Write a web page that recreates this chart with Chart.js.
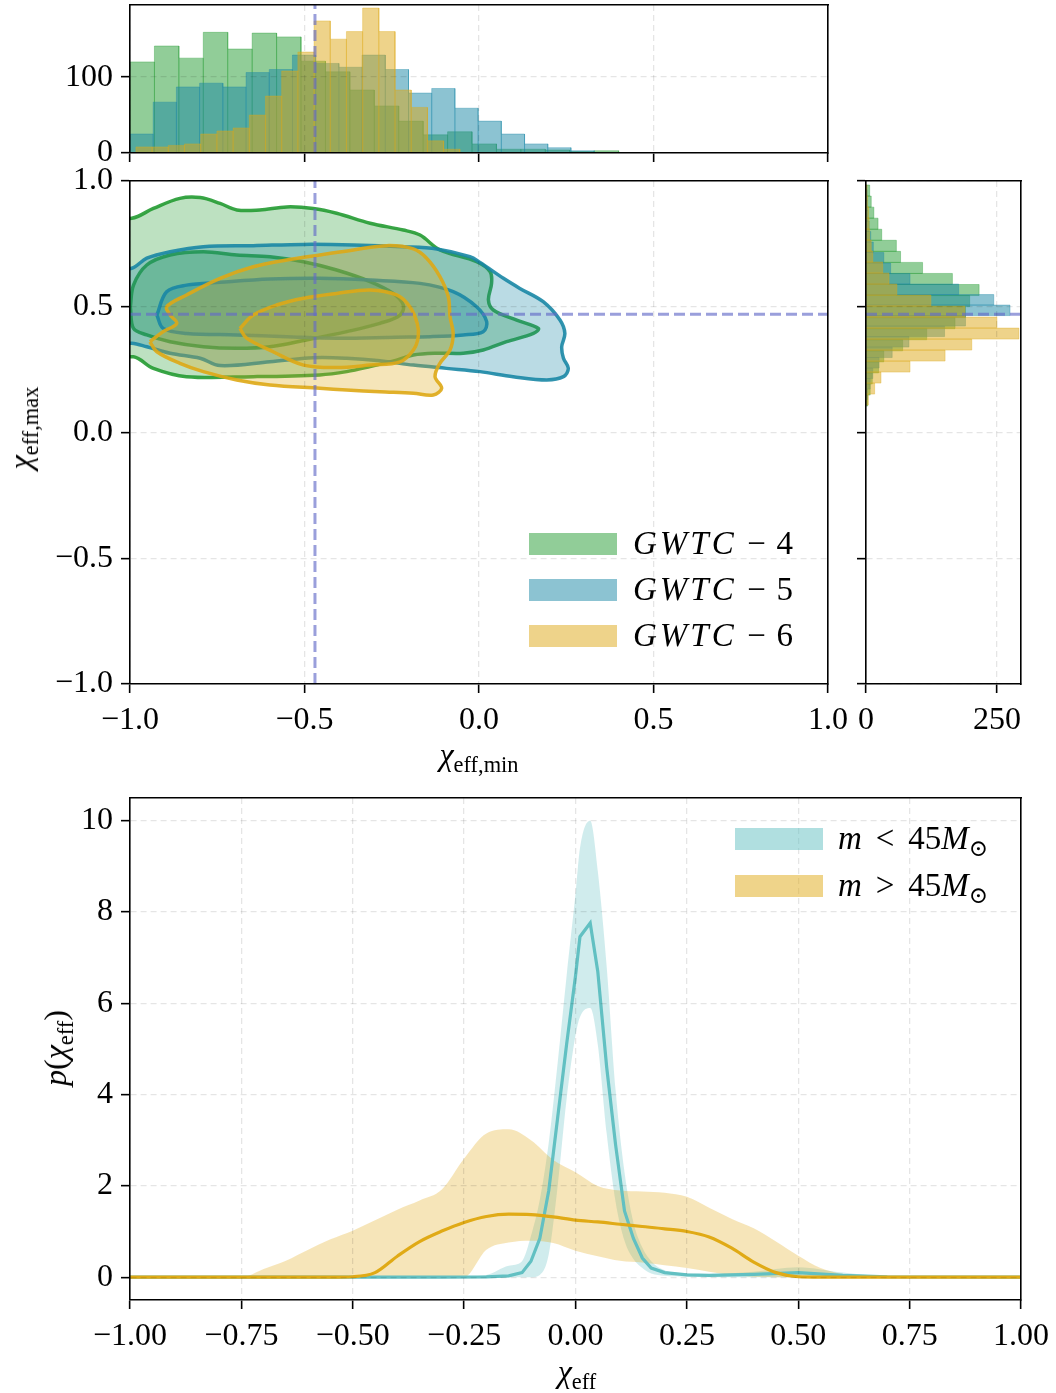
<!DOCTYPE html>
<html>
<head>
<meta charset="utf-8">
<script src="https://cdn.jsdelivr.net/npm/chart.js@4.4.1/dist/chart.umd.min.js"></script>
<style>
  body { margin: 0; background: #fff; }
  #page { position: relative; width: 1056px; height: 1393px; overflow: hidden; background: #fff; }
  canvas { position: absolute; left: 0; top: 0; }
  .t { position: absolute; font-family: 'Liberation Serif', 'DejaVu Serif', serif; font-size: 32px; color: #000; white-space: nowrap; line-height: 1; }
  .t sub { font-size: 0.7em; vertical-align: baseline; position: relative; top: 0.3em; }
  .sw { position: absolute; width: 88px; height: 22px; }
  .lg { font-size: 33px; }
  .lg i.w { letter-spacing: 3px; }
  .mi { margin: 0 0.32em; font-style: normal; }
  .mi2 { margin: 0 0.42em; font-style: normal; }
</style>
</head>
<body>
<div id="page">
  <canvas id="cTop" width="1056" height="1393"></canvas>
  <canvas id="cMain" width="1056" height="1393"></canvas>
  <canvas id="cRight" width="1056" height="1393"></canvas>
  <canvas id="cBottom" width="1056" height="1393"></canvas>

  <div class="t" style="left:20px;top:428px;transform:translate(-50%,-50%) rotate(-90deg)"><i>χ</i><sub>eff,max</sub></div>
  <div class="t" style="left:479px;top:754px;transform:translate(-50%,-50%)"><i>χ</i><sub>eff,min</sub></div>
  <div class="t" style="left:55px;top:1048px;transform:translate(-50%,-50%) rotate(-90deg)"><i>p</i>(<i>χ</i><sub>eff</sub>)</div>
  <div class="t" style="left:577px;top:1371px;transform:translate(-50%,-50%)"><i>χ</i><sub>eff</sub></div>

  <div class="sw" style="left:529px;top:533px;background:rgba(35,155,50,0.5)"></div>
  <div class="sw" style="left:529px;top:579px;background:rgba(25,135,165,0.5)"></div>
  <div class="sw" style="left:529px;top:625px;background:rgba(222,168,22,0.5)"></div>
  <div class="t lg" style="left:633px;top:543px;transform:translateY(-50%)"><i class="w">GWTC</i><span class="mi">−</span>4</div>
  <div class="t lg" style="left:633px;top:589px;transform:translateY(-50%)"><i class="w">GWTC</i><span class="mi">−</span>5</div>
  <div class="t lg" style="left:633px;top:635px;transform:translateY(-50%)"><i class="w">GWTC</i><span class="mi">−</span>6</div>

  <div class="sw" style="left:735px;top:828px;background:rgba(98,192,194,0.5)"></div>
  <div class="sw" style="left:735px;top:875px;background:rgba(224,170,22,0.5)"></div>
  <div class="t lg" style="left:838px;top:838px;transform:translateY(-50%)"><i>m</i><span class="mi2">&lt;</span>45<i>M</i><sub>⊙</sub></div>
  <div class="t lg" style="left:838px;top:885px;transform:translateY(-50%)"><i>m</i><span class="mi2">&gt;</span>45<i>M</i><sub>⊙</sub></div>
</div>

<script>
// reference point (dashed cross-hair)
const markerX = -0.47;
const markerY = 0.47;

// tick values
const spinTicks = [-1, -0.5, 0, 0.5, 1];
const topCountTicks = [0, 100];
const rightCountTicks = [0, 250];
const effTicks = [-1, -0.75, -0.5, -0.25, 0, 0.25, 0.5, 0.75, 1];
const densTicks = [0, 2, 4, 6, 8, 10];

// top marginal: chi_eff,min histograms (bin range + counts, 20 bins)
const gwtc4MinRange = [-1.0, 0.4];
const gwtc4MinCounts = [120, 141, 125, 159, 137, 158, 153, 121, 107, 83, 62, 42, 24, 28, 12, 5, 5, 4, 2, 3];
const gwtc5MinRange = [-1.0, 0.33];
const gwtc5MinCounts = [25, 67, 87, 92, 87, 106, 110, 129, 118, 113, 129, 110, 79, 85, 59, 42, 25, 12, 7, 3];
const gwtc6MinRange = [-0.983, -0.055];
const gwtc6MinCounts = [8, 8, 10, 12, 25, 29, 33, 50, 75, 108, 133, 174, 150, 160, 191, 160, 83, 60, 16, 5];

// right marginal: chi_eff,max histograms (low -> high)
const gwtc4MaxRange = [0.105, 0.984];
const gwtc4MaxCounts = [3, 8, 12, 24, 34, 70, 116, 170, 190, 198, 216, 165, 108, 66, 58, 30, 23, 15, 10, 7];
const gwtc5MaxRange = [0.131, 0.966];
const gwtc5MaxCounts = [3, 8, 13, 25, 50, 82, 150, 190, 275, 244, 177, 84, 47, 34, 14, 9, 6, 4, 3, 2];
const gwtc6MaxRange = [0.109, 0.984];
const gwtc6MaxCounts = [4.5, 16.5, 28.6, 84, 151, 202, 292, 250, 189, 124, 59, 44, 32, 13, 10, 7, 6, 5, 3, 2];

// 2D credible contours [chi_eff,min, chi_eff,max]
const gwtc4Outer = [[-1.1, 0.86], [-0.995, 0.852], [-0.933, 0.891], [-0.857, 0.931], [-0.799, 0.934], [-0.742, 0.911],
  [-0.694, 0.885], [-0.628, 0.885], [-0.551, 0.897], [-0.475, 0.891], [-0.408, 0.872], [-0.312, 0.832], [-0.217, 0.805],
  [-0.169, 0.785], [-0.112, 0.726], [-0.007, 0.679], [0.032, 0.639], [0.036, 0.593], [0.027, 0.527], [0.041, 0.487],
  [0.108, 0.447], [0.170, 0.414], [0.156, 0.394], [0.079, 0.361], [0.012, 0.328], [-0.045, 0.315], [-0.121, 0.315],
  [-0.188, 0.308], [-0.236, 0.288], [-0.312, 0.262], [-0.379, 0.242], [-0.456, 0.229], [-0.647, 0.222], [-0.838, 0.222],
  [-0.933, 0.255], [-0.990, 0.301], [-1.1, 0.29], [-1.1, 0.86]];
const gwtc4Inner = [[-0.999, 0.499], [-0.990, 0.586], [-0.952, 0.666], [-0.885, 0.706], [-0.790, 0.719], [-0.694, 0.706],
  [-0.599, 0.699], [-0.503, 0.679], [-0.408, 0.646], [-0.312, 0.600], [-0.246, 0.553], [-0.217, 0.507], [-0.226, 0.467],
  [-0.284, 0.434], [-0.379, 0.401], [-0.494, 0.368], [-0.599, 0.341], [-0.694, 0.335], [-0.790, 0.341], [-0.885, 0.361],
  [-0.952, 0.388], [-0.990, 0.414], [-0.999, 0.499]];
const gwtc5Outer = [[-1.1, 0.64], [-0.995, 0.653], [-0.952, 0.693], [-0.885, 0.719], [-0.790, 0.739], [-0.647, 0.743],
  [-0.503, 0.748], [-0.360, 0.746], [-0.217, 0.739], [-0.121, 0.730], [-0.026, 0.699], [0.003, 0.676], [0.070, 0.613],
  [0.117, 0.573], [0.184, 0.520], [0.232, 0.447], [0.246, 0.394], [0.237, 0.341], [0.242, 0.295], [0.256, 0.255],
  [0.242, 0.222], [0.194, 0.209], [0.098, 0.222], [0.003, 0.242], [-0.093, 0.255], [-0.188, 0.268], [-0.284, 0.285],
  [-0.379, 0.295], [-0.475, 0.297], [-0.599, 0.281], [-0.742, 0.266], [-0.799, 0.295], [-0.885, 0.315], [-0.952, 0.341],
  [-0.995, 0.355], [-1.1, 0.36], [-1.1, 0.64]];
const gwtc5Inner = [[-0.923, 0.467], [-0.895, 0.560], [-0.838, 0.586], [-0.742, 0.597], [-0.599, 0.610], [-0.456, 0.613],
  [-0.312, 0.606], [-0.169, 0.593], [-0.074, 0.560], [-0.007, 0.500], [0.022, 0.441], [0.012, 0.401], [-0.045, 0.388],
  [-0.140, 0.381], [-0.236, 0.379], [-0.408, 0.375], [-0.551, 0.381], [-0.694, 0.388], [-0.838, 0.394], [-0.905, 0.414],
  [-0.923, 0.467]];
const gwtc6Outer = [[-0.943, 0.361], [-0.905, 0.401], [-0.866, 0.434], [-0.885, 0.467], [-0.895, 0.500], [-0.838, 0.547],
  [-0.742, 0.613], [-0.647, 0.659], [-0.551, 0.686], [-0.456, 0.706], [-0.360, 0.726], [-0.264, 0.743], [-0.188, 0.730],
  [-0.150, 0.693], [-0.112, 0.620], [-0.088, 0.540], [-0.083, 0.460], [-0.074, 0.394], [-0.083, 0.328], [-0.112, 0.275],
  [-0.126, 0.222], [-0.107, 0.176], [-0.131, 0.149], [-0.188, 0.156], [-0.284, 0.162], [-0.379, 0.169], [-0.456, 0.176],
  [-0.599, 0.189], [-0.694, 0.209], [-0.790, 0.242], [-0.857, 0.275], [-0.923, 0.321], [-0.943, 0.361]];
const gwtc6Inner = [[-0.685, 0.414], [-0.647, 0.467], [-0.580, 0.507], [-0.503, 0.534], [-0.408, 0.553], [-0.312, 0.567],
  [-0.236, 0.547], [-0.198, 0.500], [-0.177, 0.434], [-0.174, 0.381], [-0.188, 0.328], [-0.226, 0.281], [-0.312, 0.268],
  [-0.408, 0.258], [-0.503, 0.268], [-0.590, 0.321], [-0.666, 0.375], [-0.685, 0.414]];

// bottom panel: p(chi_eff) median and 90% band
const lowMassX = [-1.0, -0.3, -0.2, -0.15, -0.12, -0.1, -0.08, -0.06, -0.04, -0.02, 0.0, 0.01, 0.033, 0.05, 0.07,
  0.09, 0.11, 0.13, 0.15, 0.17, 0.2, 0.25, 0.3, 0.4, 0.5, 0.6, 0.7, 1.0];
const lowMassMed = [0, 0, 0.005, 0.03, 0.1, 0.35, 0.85, 1.9, 3.5, 5.1, 6.6, 7.46, 7.76, 6.7, 4.6,
  2.9, 1.45, 0.85, 0.42, 0.2, 0.1, 0.05, 0.04, 0.06, 0.1, 0.04, 0.01, 0];
const lowMassHi = [0, 0, 0.05, 0.25, 0.35, 0.9, 1.7, 2.95, 4.7, 6.6, 8.4, 9.4, 10.0, 8.9, 6.8,
  4.1, 2.3, 1.2, 0.65, 0.35, 0.15, 0.08, 0.07, 0.12, 0.22, 0.1, 0.02, 0];
const lowMassLo = [0, 0, 0, 0, 0, 0, 0.05, 0.5, 2.0, 3.9, 5.3, 5.7, 5.9, 5.1, 3.15,
  1.65, 0.8, 0.4, 0.2, 0.08, 0.03, 0.01, 0, 0, 0, 0, 0, 0];
const highMassX = [-1.0, -0.75, -0.7, -0.65, -0.6, -0.55, -0.5, -0.45, -0.4, -0.35, -0.3, -0.25, -0.2, -0.15, -0.1, -0.05,
  0.0, 0.05, 0.1, 0.15, 0.2, 0.25, 0.3, 0.35, 0.4, 0.45, 0.5, 0.55, 0.6, 0.65, 0.7, 1.0];
const highMassMed = [0, 0, 0, 0, 0, 0, 0.01, 0.1, 0.46, 0.78, 1.01, 1.2, 1.33, 1.38, 1.37, 1.32,
  1.25, 1.21, 1.16, 1.11, 1.06, 1.0, 0.88, 0.64, 0.33, 0.1, 0.01, 0, 0, 0, 0, 0];
const highMassHi = [0, 0, 0.18, 0.36, 0.6, 0.83, 1.02, 1.25, 1.48, 1.68, 1.92, 2.6, 3.15, 3.24, 3.0, 2.57,
  2.3, 2.0, 1.9, 1.88, 1.85, 1.76, 1.52, 1.28, 1.07, 0.78, 0.47, 0.2, 0.07, 0.03, 0, 0];
const highMassLo = [0, 0, 0, 0, 0, 0, 0, 0, 0, 0, 0, 0, 0.6, 0.76, 0.8, 0.75,
  0.58, 0.46, 0.36, 0.32, 0.26, 0.2, 0.12, 0.05, 0.01, 0, 0, 0, 0, 0, 0, 0];

const GREEN = '35,155,50';
const TEAL = '25,135,165';
const YELLOW = '222,168,22';
const LOWM = '98,192,194';
const HIGHM = '224,170,22';
const MARK = 'rgba(100,108,200,0.65)';
const rgba = (c, a) => `rgba(${c},${a})`;

Chart.defaults.font.family = "'Liberation Serif', 'DejaVu Serif', serif";
Chart.defaults.color = '#000';

const minus = v => (v < 0 ? '\u2212' : '') + Math.abs(v);
const fmt1 = v => (v < 0 ? '\u2212' : '') + Math.abs(v).toFixed(1);
const fmt2 = v => (v < 0 ? '\u2212' : '') + Math.abs(v).toFixed(2);

// axis sizes are pinned so every panel lands where the figure has it
function pin(s, size) {
  if (s.isHorizontal()) s.height = size; else s.width = size;
  s.paddingTop = 0; s.paddingBottom = 0; s.paddingLeft = 0; s.paddingRight = 0;
}

function axis(min, max, tickValues, position, labels, fmt, size) {
  return {
    type: 'linear', position: position, min: min, max: max,
    afterBuildTicks: s => { s.ticks = tickValues.map(v => ({ value: v })); },
    afterFit: s => pin(s, size),
    grid: { color: 'rgba(0,0,0,0.1)', lineWidth: 1.3, z: 1, tickColor: '#000', tickLength: 9, tickWidth: 1.6 },
    border: { color: '#000', width: 1.6, z: 1, dash: [6, 4] },
    ticks: { display: labels, autoSkip: false, maxRotation: 0,
      padding: 8, font: { size: 32 }, color: '#000', callback: fmt }
  };
}

function spine(position) {
  return {
    type: 'linear', position: position,
    grid: { display: false }, ticks: { display: false },
    border: { color: '#000', width: 1.6, z: 1 },
    afterFit: s => pin(s, 0)
  };
}

// step outline of a histogram, dropping to zero at every bin edge so the bar edges show
function histShape(range, counts, sideways) {
  const n = counts.length;
  const w = (range[1] - range[0]) / n;
  let pts = [];
  for (let i = 0; i < n; i++) {
    const a = range[0] + i * w;
    pts.push([a, 0], [a, counts[i]], [a + w, counts[i]]);
  }
  pts.push([range[1], 0]);
  return pts.map(p => sideways ? { x: p[1], y: p[0] } : { x: p[0], y: p[1] });
}

function histSet(range, counts, color, sideways) {
  return {
    data: histShape(range, counts, sideways), showLine: true, fill: 'shape', tension: 0,
    backgroundColor: rgba(color, 0.5), borderColor: rgba(color, 0.35), borderWidth: 1, pointRadius: 0
  };
}

function contourSet(pts, color) {
  return {
    data: pts.map(p => ({ x: p[0], y: p[1] })), showLine: true, fill: 'shape', tension: 0.35,
    backgroundColor: rgba(color, 0.3), borderColor: rgba(color, 0.9), borderWidth: 3.5, pointRadius: 0
  };
}

function dashSet(pts) {
  return {
    data: pts, showLine: true, fill: false, borderColor: MARK, borderWidth: 3,
    borderDash: [11, 5], pointRadius: 0
  };
}

const common = {
  responsive: false, animation: false,
  plugins: { legend: { display: false }, tooltip: { enabled: false } }
};

// top marginal histogram
new Chart(document.getElementById('cTop'), {
  type: 'scatter',
  data: {
    datasets: [
      dashSet([{ x: markerX, y: 0 }, { x: markerX, y: 195 }]),
      histSet(gwtc6MinRange, gwtc6MinCounts, YELLOW, false),
      histSet(gwtc5MinRange, gwtc5MinCounts, TEAL, false),
      histSet(gwtc4MinRange, gwtc4MinCounts, GREEN, false)
    ]
  },
  options: Object.assign({}, common, {
    layout: { padding: { left: 0, top: 5, right: 228, bottom: 1228 } },
    scales: {
      x: axis(-1, 1, spinTicks, 'bottom', false, fmt1, 12),
      y: axis(0, 195, topCountTicks, 'left', true, minus, 130),
      xTop: spine('top'), yRight: spine('right')
    }
  })
});

// joint contours
new Chart(document.getElementById('cMain'), {
  type: 'scatter',
  data: {
    datasets: [
      dashSet([{ x: markerX, y: -1 }, { x: markerX, y: 1 }]),
      dashSet([{ x: -1, y: markerY }, { x: 1, y: markerY }]),
      contourSet(gwtc6Inner, YELLOW),
      contourSet(gwtc6Outer, YELLOW),
      contourSet(gwtc5Inner, TEAL),
      contourSet(gwtc5Outer, TEAL),
      contourSet(gwtc4Inner, GREEN),
      contourSet(gwtc4Outer, GREEN)
    ]
  },
  options: Object.assign({}, common, {
    indexAxis: 'y',
    layout: { padding: { left: 0, top: 181, right: 228, bottom: 649 } },
    scales: {
      x: axis(-1, 1, spinTicks, 'bottom', true, fmt1, 60),
      y: axis(-1, 1, spinTicks, 'left', true, fmt1, 130),
      xTop: spine('top'), yRight: spine('right')
    }
  })
});

// right marginal histogram
new Chart(document.getElementById('cRight'), {
  type: 'scatter',
  data: {
    datasets: [
      dashSet([{ x: 0, y: markerY }, { x: 296, y: markerY }]),
      histSet(gwtc6MaxRange, gwtc6MaxCounts, YELLOW, true),
      histSet(gwtc5MaxRange, gwtc5MaxCounts, TEAL, true),
      histSet(gwtc4MaxRange, gwtc4MaxCounts, GREEN, true)
    ]
  },
  options: Object.assign({}, common, {
    indexAxis: 'y',
    layout: { padding: { left: 850, top: 181, right: 35, bottom: 649 } },
    scales: {
      x: axis(0, 296, rightCountTicks, 'bottom', true, minus, 60),
      y: axis(-1, 1, spinTicks, 'left', false, fmt1, 16),
      xTop: spine('top'), yRight: spine('right')
    }
  })
});

// bottom panel
const pts = (xs, ys) => xs.map((x, i) => ({ x: x, y: ys[i] }));
const band = (xs, ys, color, fill) => ({
  data: pts(xs, ys), fill: fill, backgroundColor: rgba(color, 0.3), borderWidth: 0,
  pointRadius: 0, cubicInterpolationMode: 'monotone'
});
new Chart(document.getElementById('cBottom'), {
  type: 'line',
  data: {
    datasets: [
      { data: pts(highMassX, highMassMed), borderColor: rgba(HIGHM, 1), borderWidth: 3.2, pointRadius: 0, fill: false, cubicInterpolationMode: 'monotone' },
      { data: pts(lowMassX, lowMassMed), borderColor: rgba(LOWM, 1), borderWidth: 3.2, pointRadius: 0, fill: false, tension: 0 },
      band(highMassX, highMassHi, HIGHM, '+1'),
      band(highMassX, highMassLo, HIGHM, false),
      band(lowMassX, lowMassHi, LOWM, '+1'),
      band(lowMassX, lowMassLo, LOWM, false)
    ]
  },
  options: Object.assign({}, common, {
    layout: { padding: { left: 0, top: 798, right: 35, bottom: 33 } },
    scales: {
      x: axis(-1, 1, effTicks, 'bottom', true, fmt2, 60),
      y: axis(-0.5, 10.5, densTicks, 'left', true, minus, 130),
      xTop: spine('top'), yRight: spine('right')
    }
  })
});
</script>
</body>
</html>
